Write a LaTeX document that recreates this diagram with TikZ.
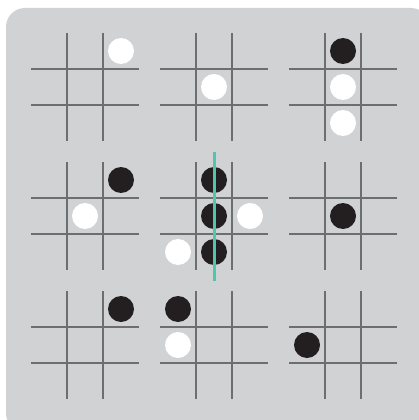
\documentclass[tikz,border=0pt]{standalone}
\usetikzlibrary{calc}
\definecolor{bg}{HTML}{D1D2D4}
\definecolor{gridc}{HTML}{6D6E70}
\definecolor{stoneblack}{HTML}{231F20}
\definecolor{teal}{HTML}{4FC7AF}
\tikzset{
  gridline/.style={draw=gridc, line width=1.5pt},
  blackstone/.style={fill=stoneblack},
  whitestone/.style={fill=white},
  winline/.style={draw=teal, line width=3pt},
}
% board at top-left (#1,#2), cell 36
\newcommand\drawboard[2]{%
  \draw[gridline] (#1+36,#2) -- (#1+36,#2+108);
  \draw[gridline] (#1+72,#2) -- (#1+72,#2+108);
  \draw[gridline] (#1,#2+36) -- (#1+108,#2+36);
  \draw[gridline] (#1,#2+72) -- (#1+108,#2+72);
}
% stone: board origin, col, row (1..3), style
\newcommand\stone[5]{%
  \fill[#5] (#1+#3*36-18,#2+#4*36-18) circle (13);
}
\begin{document}
\begin{tikzpicture}[x=1pt,y=-1pt]
\useasboundingbox (0,0) rectangle (418,420);
\fill[bg, rounded corners=19pt] (6,8) rectangle (430,432);
% row 1
\drawboard{31}{33}
\drawboard{160}{33}
\drawboard{289}{33}
% row 2
\drawboard{31}{162}
\drawboard{160}{162}
\drawboard{289}{162}
% row 3
\drawboard{31}{291}
\drawboard{160}{291}
\drawboard{289}{291}
% stones board 1
\stone{31}{33}{3}{1}{whitestone}
% board 2
\stone{160}{33}{2}{2}{whitestone}
% board 3
\stone{289}{33}{2}{1}{blackstone}
\stone{289}{33}{2}{2}{whitestone}
\stone{289}{33}{2}{3}{whitestone}
% board 4
\stone{31}{162}{3}{1}{blackstone}
\stone{31}{162}{2}{2}{whitestone}
% board 5
\stone{160}{162}{2}{1}{blackstone}
\stone{160}{162}{2}{2}{blackstone}
\stone{160}{162}{2}{3}{blackstone}
\stone{160}{162}{3}{2}{whitestone}
\stone{160}{162}{1}{3}{whitestone}
% board 6
\stone{289}{162}{2}{2}{blackstone}
% board 7
\stone{31}{291}{3}{1}{blackstone}
% board 8
\stone{160}{291}{1}{1}{blackstone}
\stone{160}{291}{1}{2}{whitestone}
% board 9
\stone{289}{291}{1}{2}{blackstone}
% winning line
\coordinate (wtop) at (214,152);
\coordinate (wbot) at (214,281);
\draw[winline] (wtop) -- (wbot);
\end{tikzpicture}
\end{document}
